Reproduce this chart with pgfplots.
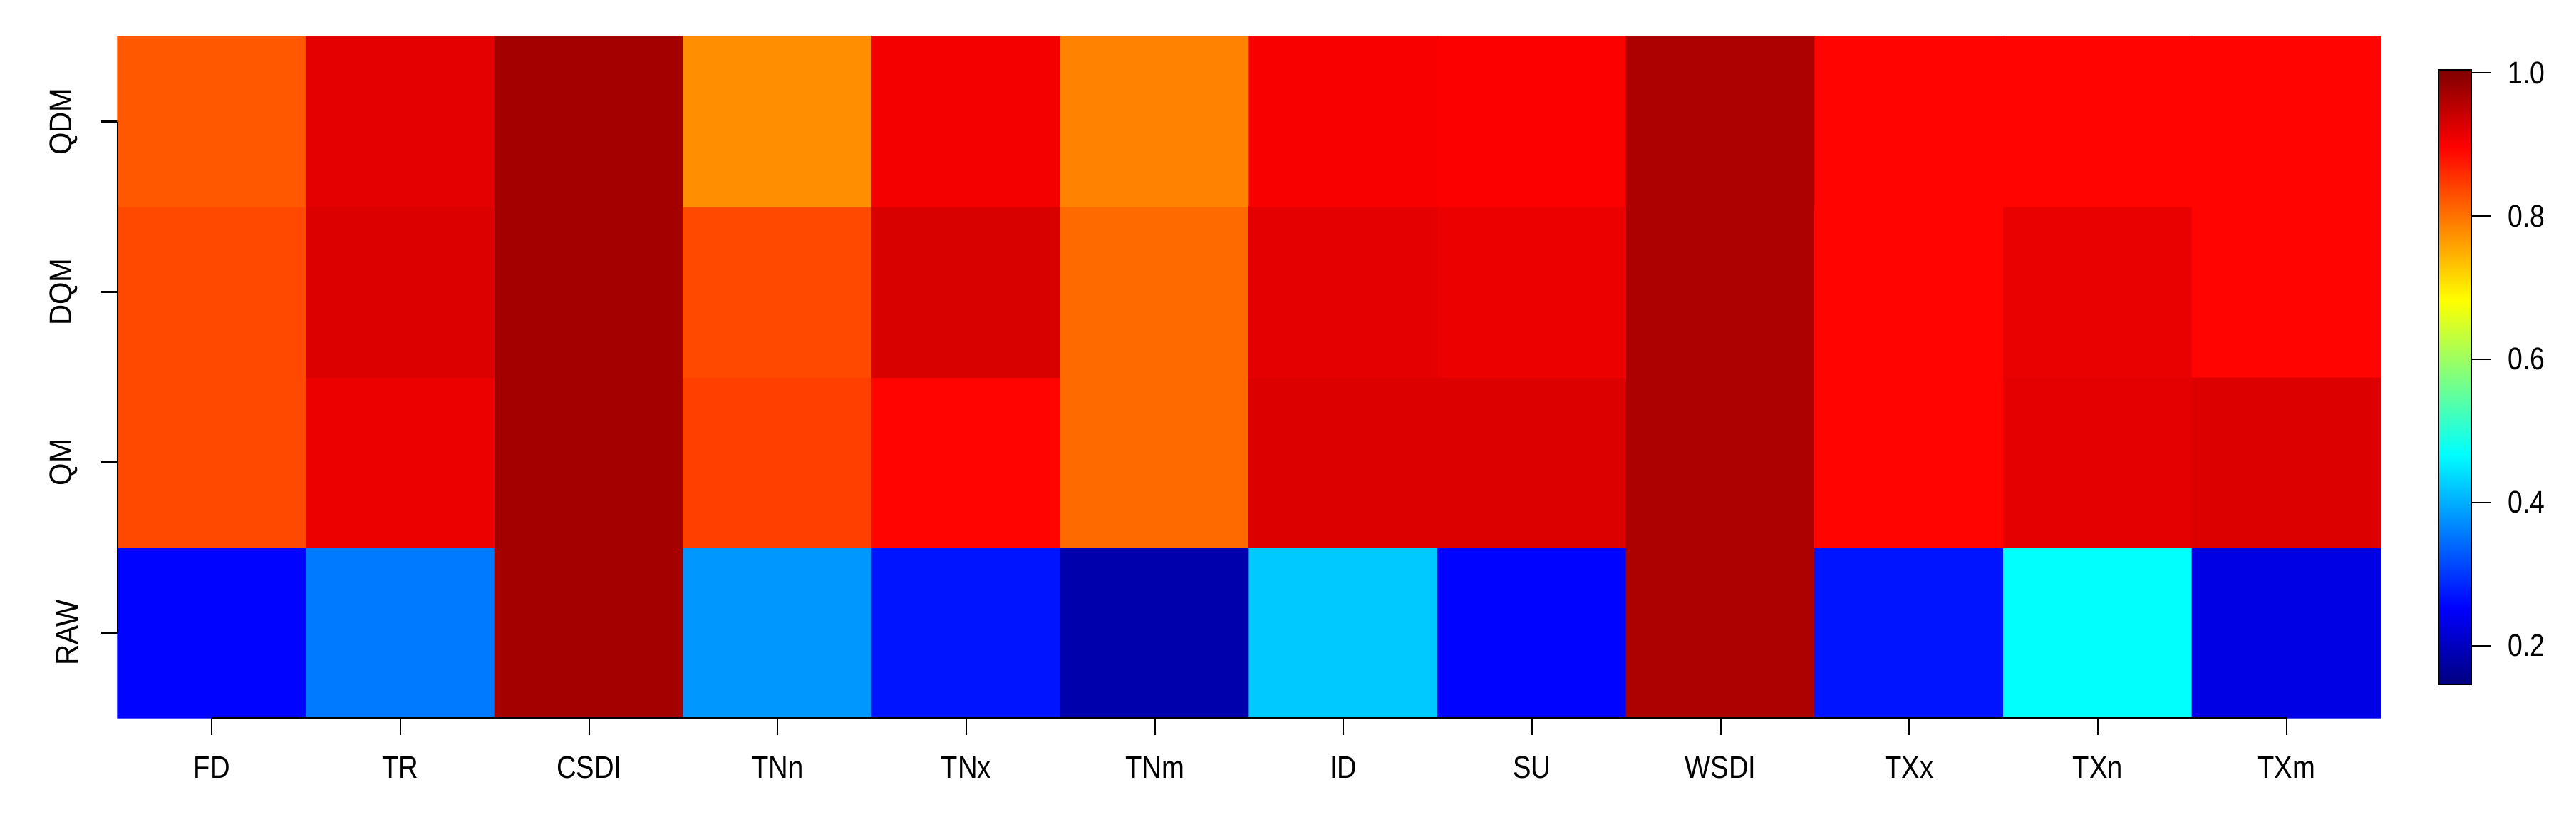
\documentclass[border=0pt]{standalone}
\usepackage{fontspec}
\setmainfont{Liberation Sans}
\newfontfamily\xfont{Liberation Sans}[FakeStretch=0.87]
\newfontfamily\yfont{Liberation Sans}[FakeStretch=0.92]
\newfontfamily\cbfont{Liberation Sans}[FakeStretch=0.85]
\usepackage{pgfplots}
\pgfplotsset{compat=1.18}

% cell values, x = index 1..12, y = 1 RAW, 2 QM, 3 DQM, 4 QDM
\pgfplotstableread{
x y c
1 1 0.256
2 1 0.357
3 1 0.973
4 1 0.382
5 1 0.270
6 1 0.184
7 1 0.423
8 1 0.256
9 1 0.966
10 1 0.270
11 1 0.469
12 1 0.231
1 2 0.836
2 2 0.913
3 2 0.973
4 2 0.844
5 2 0.894
6 2 0.808
7 2 0.926
8 2 0.926
9 2 0.966
10 2 0.894
11 2 0.920
12 2 0.926
1 3 0.836
2 3 0.926
3 3 0.973
4 3 0.836
5 3 0.929
6 3 0.808
7 3 0.920
8 3 0.913
9 3 0.966
10 3 0.894
11 3 0.916
12 3 0.894
1 4 0.823
2 4 0.920
3 4 0.973
4 4 0.777
5 4 0.906
6 4 0.787
7 4 0.903
8 4 0.900
9 4 0.966
10 4 0.894
11 4 0.894
12 4 0.894
}\cells

\begin{document}
\begin{tikzpicture}
  \path[use as bounding box] (-1.65cm,-1.38cm) rectangle (34.50cm,10.07cm);
  \begin{axis}[
    at={(0,0)},anchor=south west,
    scale only axis,width=31.76cm,height=9.56cm,
    xmin=0.5,xmax=12.5,ymin=0.5,ymax=4.5,
    clip=false,
    axis line style={draw=none},
    tick pos=left,tick align=outside,
    major tick length=0.235cm,
    tick style={black,line width=0.6pt},
    xtick={1,...,12},
    xticklabels={FD,TR,CSDI,TNn,TNx,TNm,ID,SU,WSDI,TXx,TXn,TXm},
    xticklabel style={font=\xfont\fontsize{12.5}{14}\selectfont,yshift=-0.18cm},
    ytick={1,2,3,4},
    yticklabels={RAW,QM,DQM,QDM},
    yticklabel style={font=\yfont\fontsize{12.5}{14}\selectfont,xshift=-0.20cm,rotate=90,anchor=south},
    colormap={jetR}{rgb255=(0,0,127) rgb255=(0,0,255) rgb255=(0,127,255)
      rgb255=(0,255,255) rgb255=(127,255,127) rgb255=(255,255,0)
      rgb255=(255,127,0) rgb255=(255,0,0) rgb255=(127,0,0)},
    point meta min=0.146,point meta max=1.004,
    colorbar,
    colorbar style={
      at={(1.0255,0.0492)},anchor=south west,
      width=0.46cm,height=8.62cm,
      axis line style={black,line width=0.5pt},
      ytick={0.2,0.4,0.6,0.8,1.0},
      ytick pos=right,
      tick align=outside,major tick length=0.28cm,
      tick style={black,line width=0.6pt},
      yticklabel pos=right,
      yticklabel style={font=\cbfont\fontsize{12.5}{14}\selectfont,xshift=0.11cm,
        /pgf/number format/assume math mode=true,
        /pgf/number format/fixed,/pgf/number format/fixed zerofill,
        /pgf/number format/precision=1},
    },
  ]
    \addplot[matrix plot*,mesh/cols=12,point meta=explicit]
      table[x=x,y=y,meta=c] {\cells};
    \draw[black,line width=0.6pt] (axis cs:1,0.5) -- (axis cs:12,0.5);
    \draw[black,line width=0.6pt] (axis cs:0.5,1) -- (axis cs:0.5,4);
  \end{axis}
\end{tikzpicture}
\end{document}
